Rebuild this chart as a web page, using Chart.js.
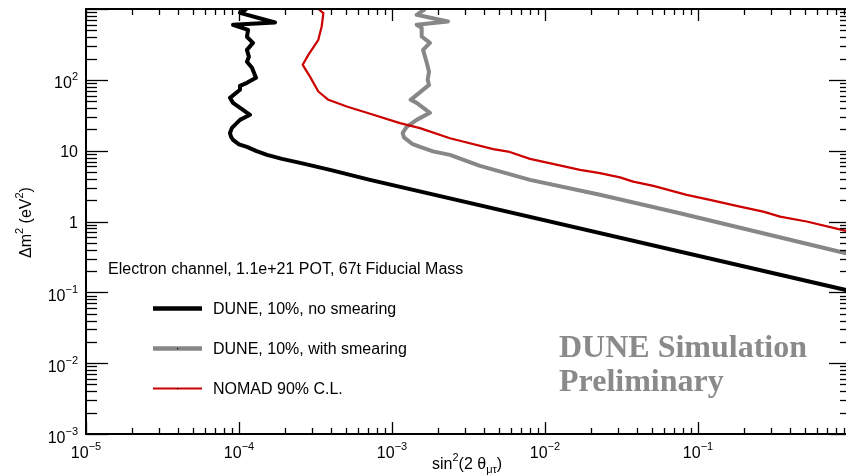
<!DOCTYPE html>
<html><head><meta charset="utf-8">
<script src="https://cdn.jsdelivr.net/npm/chart.js@4/dist/chart.umd.min.js"></script>
<style>
html,body{margin:0;padding:0;background:#fff;overflow:hidden;width:846px;height:475px}
#wrap{position:absolute;left:0;top:0;width:860px;height:475px}
</style>
</head><body><div id="wrap"><canvas id="c" width="860" height="475"></canvas></div>
<script>
// ---- data ----
const noSmearX = [1.122e-4,1.015e-4,1.72e-4,9.14e-5,1.146e-4,1.127e-4,1.234e-4,1.127e-4,1.161e-4,1.127e-4,1.216e-4,1.291e-4,1.127e-4,1.015e-4,1.015e-4,8.73e-5,9.14e-5,1.180e-4,1.015e-4,8.99e-5,8.73e-5,8.87e-5,9.14e-5,1.0e-4,1.127e-4,1.291e-4,1.524e-4,1.91e-4,2.51e-4,3.94e-4,7.18e-4,0.927,1];
const noSmearY = [1000,883,644,598,508,405,333,265,211,180,148,107,90.8,82.2,72.3,55.7,47.3,32.1,27.2,21.0,17.8,15.7,14.2,12.3,11.3,9.93,8.73,7.66,6.73,5.36,3.87,0.108,0.104];

const smearX = [1.644e-3,1.449e-3,2.32e-3,1.449e-3,1.563e-3,1.563e-3,1.77e-3,1.596e-3,1.687e-3,1.746e-3,1.71e-3,1.746e-3,1.324e-3,1.449e-3,1.77e-3,1.449e-3,1.247e-3,1.175e-3,1.197e-3,1.352e-3,1.524e-3,1.854e-3,2.39e-3,3.76e-3,7.98e-3,0.02285,0.0762,0.927,1];
const smearY = [1000,828,666,598,542,409,333,265,174,130,100,85,52.2,47.3,34.2,27.2,21.7,17.8,15.4,12.5,11.3,9.77,8.73,6.10,3.87,2.38,1.31,0.356,0.343];

const nomadX = [3.30e-4,3.56e-4,3.47e-4,3.30e-4,2.84e-4,2.61e-4,2.91e-4,3.30e-4,3.84e-4,5.06e-4,7.55e-4,1.127e-3,1.524e-3,2.39e-3,4.59e-3,5.75e-3,7.98e-3,0.01694,0.02285,0.0309,0.0377,0.0511,0.0843,0.1197,0.188,0.267,0.344,0.513,0.927,1];
const nomadY = [1000,875,566,367,225,163,111,68.4,52.2,42.0,32.1,24.5,20.8,15.0,10.5,9.71,7.66,5.36,4.81,4.20,3.66,3.18,2.38,2.02,1.62,1.38,1.17,1.0,0.736,0.71];

const seriesNames = ['DUNE, 10%, no smearing','DUNE, 10%, with smearing','NOMAD 90% C.L.'];
const seriesColors = ['#000000','#878787','#cc0000'];

const xTickValues = [1e-5,1e-4,1e-3,1e-2,1e-1];
const xTickBase = ['10','10','10','10','10'];
const xTickExp = ['\u22125','\u22124','\u22123','\u22122','\u22121'];

const yTickValues = [1e-3,1e-2,1e-1,1,10,100];
const yTickBase = ['10','10','10','1','10','10'];
const yTickExp = ['\u22123','\u22122','\u22121','','','2'];

const infoText = 'Electron channel, 1.1e+21 POT, 67t Fiducial Mass';
const watermark = ['DUNE Simulation','Preliminary'];

// ---- helpers ----
const pts = (xs, ys) => xs.map((v, i) => ({x: v, y: ys[i]}));
const SANS = '"Liberation Sans", Arial, sans-serif';

const rootFrame = {
  id: 'rootFrame',
  afterDatasetsDraw(chart) {
    const {ctx, chartArea: a, scales: {x, y}} = chart;
    ctx.save();
    ctx.strokeStyle = '#000';
    ctx.lineWidth = 1.3;
    const seg = (x1, y1, x2, y2) => { ctx.beginPath(); ctx.moveTo(x1, y1); ctx.lineTo(x2, y2); ctx.stroke(); };
    // x ticks (bottom & top, inward)
    for (let e = -5; e <= 0; e++) {
      for (let m = 1; m <= 9; m++) {
        const v = m * Math.pow(10, e);
        if (v > 1.0001) break;
        const px = Math.round(x.getPixelForValue(v)) + 0.5;
        const len = m === 1 ? 12 : 6;
        seg(px, a.bottom, px, a.bottom - len);
        seg(px, a.top, px, a.top + len);
      }
    }
    // y ticks (left & right, inward)
    for (let e = -3; e <= 3; e++) {
      for (let m = 1; m <= 9; m++) {
        const v = m * Math.pow(10, e);
        if (v > 1000.1) break;
        const py = Math.round(y.getPixelForValue(v)) + 0.5;
        const len = m === 1 ? 22 : 11;
        seg(a.left, py, a.left + len, py);
        seg(a.right, py, a.right - len, py);
      }
    }
    // frame
    ctx.lineWidth = 2;
    ctx.strokeRect(a.left, a.top, a.right - a.left, a.bottom - a.top);

    ctx.fillStyle = '#000';
    // x tick labels
    xTickValues.forEach((v, i) => {
      const px = x.getPixelForValue(v);
      ctx.font = '16px ' + SANS;
      const wb = ctx.measureText(xTickBase[i]).width;
      ctx.font = '11px ' + SANS;
      const we = ctx.measureText(xTickExp[i]).width;
      const start = px - (wb + we) / 2;
      ctx.textAlign = 'left'; ctx.textBaseline = 'alphabetic';
      ctx.font = '16px ' + SANS;
      ctx.fillText(xTickBase[i], start, a.bottom + 24);
      ctx.font = '11px ' + SANS;
      ctx.fillText(xTickExp[i], start + wb, a.bottom + 16);
    });
    // y tick labels
    yTickValues.forEach((v, i) => {
      const py = y.getPixelForValue(v);
      const right = a.left - 8;
      ctx.textAlign = 'right'; ctx.textBaseline = 'alphabetic';
      if (yTickExp[i]) {
        ctx.font = '11px ' + SANS;
        const we = ctx.measureText(yTickExp[i]).width;
        ctx.fillText(yTickExp[i], right, py + 0.5);
        ctx.font = '16px ' + SANS;
        ctx.fillText(yTickBase[i], right - we, py + 8.5);
      } else {
        ctx.font = '16px ' + SANS;
        ctx.fillText(yTickBase[i], right, py + 6);
      }
    });

    // x axis title: sin²(2 θ_μτ)
    ctx.textAlign = 'left'; ctx.textBaseline = 'alphabetic';
    let cx = 432;
    const put = (t, size, dy) => { ctx.font = size + 'px ' + SANS; ctx.fillText(t, cx, 468.5 + dy); cx += ctx.measureText(t).width; };
    put('sin', 16, 0); put('2', 11, -8); put('(2 \u03b8', 16, 0); put('\u03bc\u03c4', 11, 4); put(')', 16, 0);

    // y axis title: Δm² (eV²)
    ctx.save();
    ctx.translate(31, 258);
    ctx.rotate(-Math.PI / 2);
    let cy = 0;
    const putR = (t, size, dy) => { ctx.font = size + 'px ' + SANS; ctx.fillText(t, cy, dy); cy += ctx.measureText(t).width; };
    putR('\u0394m', 16, 0); putR('2', 11, -8); putR(' (eV', 16, 0); putR('2', 11, -8); putR(')', 16, 0);
    ctx.restore();

    // info text
    ctx.font = '16px ' + SANS;
    ctx.fillText(infoText, 108, 274);

    // legend
    const ly = [308.5, 348.5, 388.5];
    const lw = [4.5, 4.5, 2.2];
    seriesNames.forEach((n, i) => {
      ctx.strokeStyle = seriesColors[i];
      ctx.lineWidth = lw[i];
      seg(153, ly[i], 202, ly[i]);
      if (i > 0) { ctx.fillStyle = '#000'; ctx.fillRect(177, ly[i] - 0.5, 1.2, 1.2); }
      ctx.fillStyle = '#000';
      ctx.font = '16px ' + SANS;
      ctx.fillText(n, 213, ly[i] + 5);
    });

    // watermark
    ctx.fillStyle = '#8a8a8a';
    ctx.font = 'bold 32px "Liberation Serif", "Times New Roman", serif';
    ctx.fillText(watermark[0], 559, 357);
    ctx.fillText(watermark[1], 559, 391);
    ctx.restore();
  }
};

new Chart(document.getElementById('c'), {
  type: 'scatter',
  data: {
    datasets: [
      {label: seriesNames[2], data: pts(nomadX, nomadY), showLine: true, borderColor: seriesColors[2], borderWidth: 2.2, pointRadius: 0, tension: 0, fill: false, borderJoinStyle: 'round'},
      {label: seriesNames[1], data: pts(smearX, smearY), showLine: true, borderColor: seriesColors[1], borderWidth: 4, pointRadius: 0, tension: 0, fill: false, borderJoinStyle: 'round'},
      {label: seriesNames[0], data: pts(noSmearX, noSmearY), showLine: true, borderColor: seriesColors[0], borderWidth: 4, pointRadius: 0, tension: 0, fill: false, borderJoinStyle: 'round'}
    ]
  },
  options: {
    responsive: false,
    animation: false,
    layout: {padding: {left: 86, right: 9, top: 9, bottom: 41}},
    scales: {
      x: {type: 'logarithmic', min: 1e-5, max: 1, display: false},
      y: {type: 'logarithmic', min: 1e-3, max: 1e3, display: false}
    },
    plugins: {legend: {display: false}, tooltip: {enabled: false}}
  },
  plugins: [rootFrame]
});
</script>
</body></html>
